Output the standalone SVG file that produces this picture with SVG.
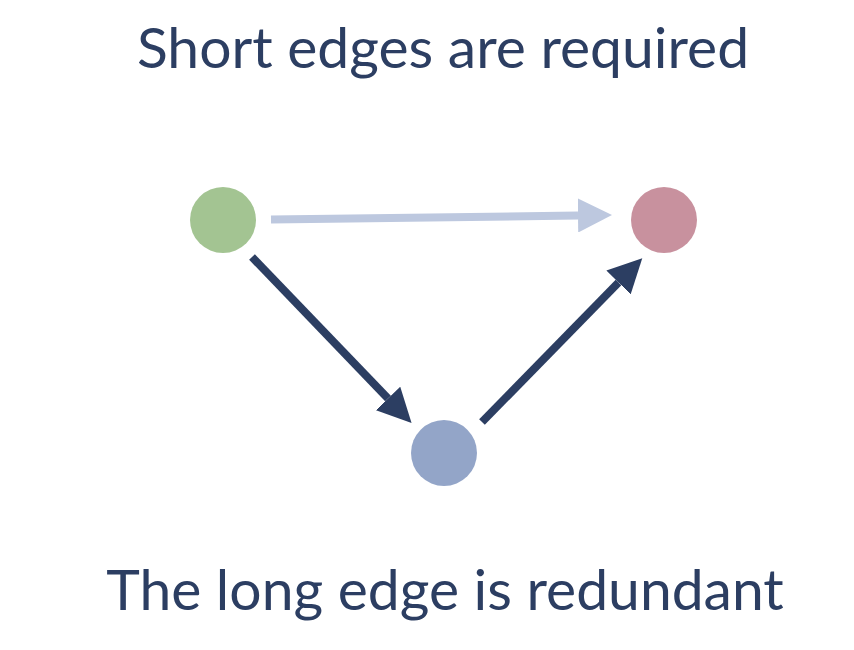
<svg xmlns="http://www.w3.org/2000/svg" width="854" height="650" viewBox="0 0 854 650">
<style>
.t{font-family:"Lato","Open Sans","Liberation Sans",sans-serif;font-size:57px;fill:#2c3e62;text-anchor:middle}
.dark{stroke:#2c3e62;stroke-width:8;fill:none}
.light{stroke:#bdc8df;stroke-width:8;fill:none}
</style>
<defs>
<marker id="hd" markerUnits="userSpaceOnUse" markerWidth="34" markerHeight="34" refX="0" refY="16.5" orient="auto" viewBox="0 0 33 33">
<path d="M0,0 L33,16.5 L0,33 z" fill="#2c3e62"/>
</marker>
<marker id="hl" markerUnits="userSpaceOnUse" markerWidth="34" markerHeight="34" refX="0" refY="16.5" orient="auto" viewBox="0 0 33 33">
<path d="M0,0 L33,16.5 L0,33 z" fill="#bdc8df"/>
</marker>
</defs>
<rect width="854" height="650" fill="#ffffff"/>
<text class="t" x="443" y="68">Short edges are required</text>
<text class="t" x="445" y="610">The long edge is redundant</text>
<g id="connectors">
<line class="light" x1="271" y1="219.5" x2="578" y2="215.5" marker-end="url(#hl)"/>
<line class="dark" x1="252" y1="257" x2="388" y2="398.5" marker-end="url(#hd)"/>
<line class="dark" x1="482" y1="422" x2="618.5" y2="282.5" marker-end="url(#hd)"/>
</g>
<g id="node-a"><circle cx="223" cy="220" r="33" fill="#a3c492"/></g>
<g id="node-c"><circle cx="664" cy="220" r="33" fill="#c8919e"/></g>
<g id="node-b"><circle cx="444" cy="453" r="33" fill="#93a5c8"/></g>
</svg>
